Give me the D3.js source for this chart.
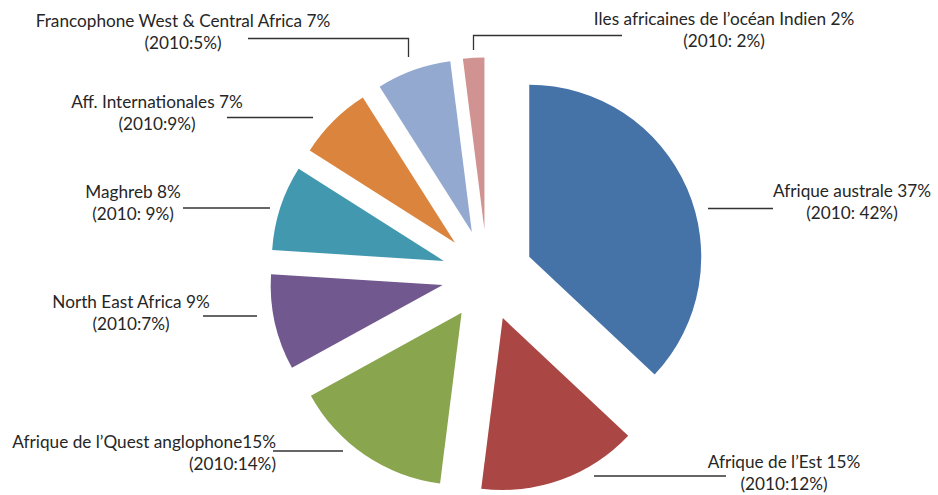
<!DOCTYPE html>
<html>
<head>
<meta charset="utf-8">
<script src="https://cdn.jsdelivr.net/npm/d3@7"></script>
<style>
  html, body { margin: 0; padding: 0; background: #ffffff; }
  svg { display: block; }
  text { font-family: "Lato", "Open Sans", sans-serif; font-size: 17.2px; fill: #262626; }
</style>
</head>
<body>
<script>
// Regional shares, clockwise from 12 o'clock
const regions = [
  "Afrique australe ",
  "Afrique de l’Est ",
  "Afrique de l’Quest anglophone",
  "North East Africa ",
  "Maghreb ",
  "Aff. Internationales ",
  "Francophone West & Central Africa ",
  "Iles africaines de l’océan Indien "
];
const share = [37, 15, 15, 9, 8, 7, 7, 2];
const share2010 = [42, 12, 14, 7, 9, 9, 5, 2];
const share2010Sep = [" ", "", "", "", " ", "", "", " "];
const colors = ["#4572A7", "#AA4643", "#89A54E", "#71588F", "#4198AF", "#DB843D", "#93A9CF", "#D19392"];

// Label anchors and leader polylines
const labelLayout = [
  { x: 852, y: 197, anchor: "middle", leader: [[708, 208.5], [773, 208.5]] },
  { x: 784, y: 468, anchor: "middle", leader: [[594, 476], [726, 476]] },
  { x: 276, y: 448, anchor: "end",    leader: [[273, 451], [343, 451]] },
  { x: 131, y: 308, anchor: "middle", leader: [[203, 316], [257, 316]] },
  { x: 133, y: 198, anchor: "middle", leader: [[183, 208], [270, 208]] },
  { x: 157, y: 108, anchor: "middle", leader: [[227, 117.5], [313, 117.5]] },
  { x: 183, y: 27,  anchor: "middle", leader: [[248, 38.5], [408.5, 38.5], [408.5, 57]] },
  { x: 724, y: 25,  anchor: "middle", leader: [[473.5, 50], [473.5, 35.5], [622, 35.5]] }
];

const W = 938, H = 495;
const cx = 487.3, cy = 275, R = 172, explode = 45.7;

const svg = d3.select("body").append("svg").attr("width", W).attr("height", H);

const pie = d3.pie().sort(null).value(d => d).startAngle(0).endAngle(2 * Math.PI);
const arcs = pie(share);
const arc = d3.arc().innerRadius(0).outerRadius(R);

const g = svg.append("g").attr("transform", `translate(${cx},${cy})`);
g.selectAll("path.slice")
  .data(arcs)
  .join("path")
  .attr("class", "slice")
  .attr("fill", (d, i) => colors[i])
  .attr("d", arc)
  .attr("transform", d => {
    const m = (d.startAngle + d.endAngle) / 2;
    return `translate(${explode * Math.sin(m)},${-explode * Math.cos(m)})`;
  });

// Leader lines
const line = d3.line();
svg.selectAll("path.leader")
  .data(labelLayout)
  .join("path")
  .attr("class", "leader")
  .attr("d", d => line(d.leader))
  .attr("fill", "none")
  .attr("stroke", "#333333")
  .attr("stroke-width", 1.3);

// Two-line labels
const labels = svg.selectAll("text.label")
  .data(labelLayout)
  .join("text")
  .attr("class", "label")
  .attr("text-anchor", d => d.anchor);

labels.append("tspan")
  .attr("x", d => d.x)
  .attr("y", d => d.y)
  .text((d, i) => `${regions[i]}${share[i]}%`);

labels.append("tspan")
  .attr("x", (d, i) => d.x)
  .attr("y", d => d.y + 22)
  .text((d, i) => `(2010:${share2010Sep[i]}${share2010[i]}%)`);
</script>
</body>
</html>
